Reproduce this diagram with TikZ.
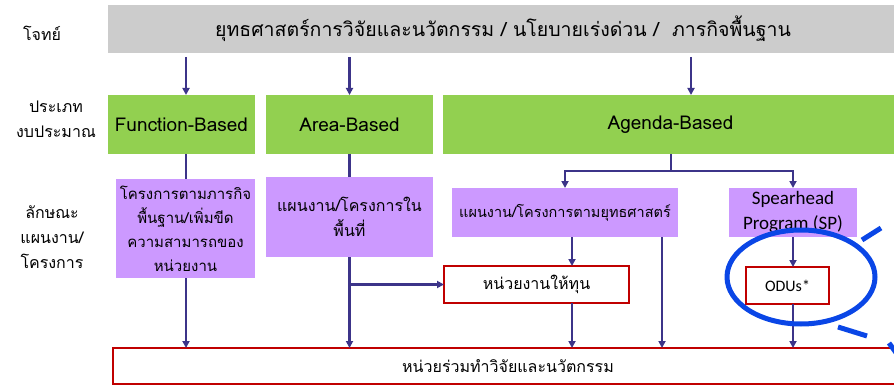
\documentclass[tikz,border=0pt]{standalone}
\usepackage{fontspec}
\setmainfont{Carlito}
\newfontfamily\thai[Script=Thai]{Loma}
\usetikzlibrary{arrows.meta,calc}
\definecolor{goalgray}{RGB}{204,204,204}
\definecolor{grn}{RGB}{146,208,80}
\definecolor{prp}{RGB}{204,153,255}
\definecolor{rd}{RGB}{192,0,0}
\definecolor{lnc}{RGB}{60,52,137}
\definecolor{blu}{RGB}{10,70,230}
\begin{document}
\begin{tikzpicture}[x=1pt,y=-1pt,
  box/.style={inner sep=0pt, outer sep=0pt, align=center, anchor=north west},
  goalbox/.style={box, fill=goalgray, font=\thai\fontsize{19.5}{24}\selectfont},
  typebox/.style={box, fill=grn, font=\thai\fontsize{19}{22}\selectfont},
  planbox/.style={box, fill=prp, font=\thai\fontsize{15}{24}\selectfont},
  unitbox/.style={box, draw=rd, line width=2pt, font=\thai\fontsize{16}{20}\selectfont},
  sidelabel/.style={align=center, inner sep=0pt, font=\thai\fontsize{16}{25}\selectfont},
  conn/.style={draw=lnc, line width=2.2pt},
  arr/.style={conn, -{Triangle[length=7pt,width=7pt]}},
  hilite/.style={draw=blu, line width=5pt}
]
\useasboundingbox (0,0) rectangle (894,385);

% side labels
\node[sidelabel] (l1) at (42,33) {โจทย์};
\node[sidelabel] (l2) at (56,119) {ประเภท\\งบประมาณ};
\node[sidelabel] (l3) at (52,237) {ลักษณะ\\แผนงาน/\\โครงการ};

% goal bar
\node[goalbox, minimum width=790, minimum height=48] (goal) at (108,5)
  {ยุทธศาสตร์การวิจัยและนวัตกรรม / นโยบายเร่งด่วน / \ ภารกิจพื้นฐาน};

% budget types
\node[typebox, minimum width=147, minimum height=59] (fb) at (108,95) {Function-Based};
\node[typebox, minimum width=167, minimum height=59] (ab) at (266,95) {Area-Based};
\node[typebox, minimum width=455, minimum height=59] (ag) at (443,95) {Agenda-Based};

% plans
\node[planbox, minimum width=139, minimum height=99] (fbp) at (116,179)
  {โครงการตามภารกิจ\\พื้นฐาน/เพิ่มขีด\\ความสามารถของ\\หน่วยงาน};
\node[planbox, minimum width=167, minimum height=80, font=\thai\fontsize{16}{25}\selectfont] (abp) at (266,177)
  {แผนงาน/โครงการใน\\พื้นที่};
\node[planbox, minimum width=226, minimum height=49, font=\thai\fontsize{14.5}{24}\selectfont] (st) at (452,188)
  {แผนงาน/โครงการตามยุทธศาสตร์};
\node[planbox, minimum width=128, minimum height=49, font=\fontsize{19}{25}\selectfont] (sp) at (729,188)
  {Spearhead\\Program (SP)};

% units
\node[unitbox, minimum width=185, minimum height=37] (fund) at (444,266) {หน่วยงานให้ทุน};
\node[unitbox, minimum width=83, minimum height=37, font=\fontsize{16}{20}\selectfont] (odu) at (746,267) {ODUs*};
\node[unitbox, minimum width=790, minimum height=36] (bot) at (113,348) {หน่วยร่วมทำวิจัยและนวัตกรรม};

% helper x positions
\coordinate (xf) at (186,0);
\coordinate (xa) at (691,0);
\coordinate (js) at (671,171);
\coordinate (xs) at (572,0);
\coordinate (xd) at (662,0);

% connectors
\draw[arr] ($(goal.south -| xf)+(0,4)$) -- (fb.north -| xf);
\draw[arr] ($(goal.south -| ab)+(0,4)$) -- (ab.north);
\draw[arr] ($(goal.south -| xa)+(0,4)$) -- (ag.north -| xa);

\draw[conn] (fb.south -| xf) -- (fbp.north -| xf);
\draw[arr] (fbp.south -| xf) -- (bot.north -| xf);

\draw[conn] (ab.south) -- (abp.north);
\draw[arr] (abp.south) -- (bot.north -| abp.south);
\draw[arr] (abp.south |- fund.west) -- (fund.west);

\draw[conn] (ag.south -| js) -- (js);
\draw[arr] (js) -| (st.north);
\draw[arr] (js) -| (sp.north);

\draw[arr] (st.south -| xs) -- (fund.north -| xs);
\draw[arr] (st.south -| xd) -- (bot.north -| xd);
\draw[arr] (fund.south -| xs) -- (bot.north -| xs);

\draw[arr] (sp.south) -- (odu.north -| sp.south);
\draw[arr] (odu.south -| sp.south) -- (bot.north -| sp.south);

% hand-drawn highlight
\draw[hilite] (801,277) ellipse [x radius=74, y radius=47];
\draw[hilite] (862,240) -- (881,228);
\draw[hilite] (838,327) -- (867,336);
\draw[hilite] (889,343) -- (897,354);
\end{tikzpicture}
\end{document}
